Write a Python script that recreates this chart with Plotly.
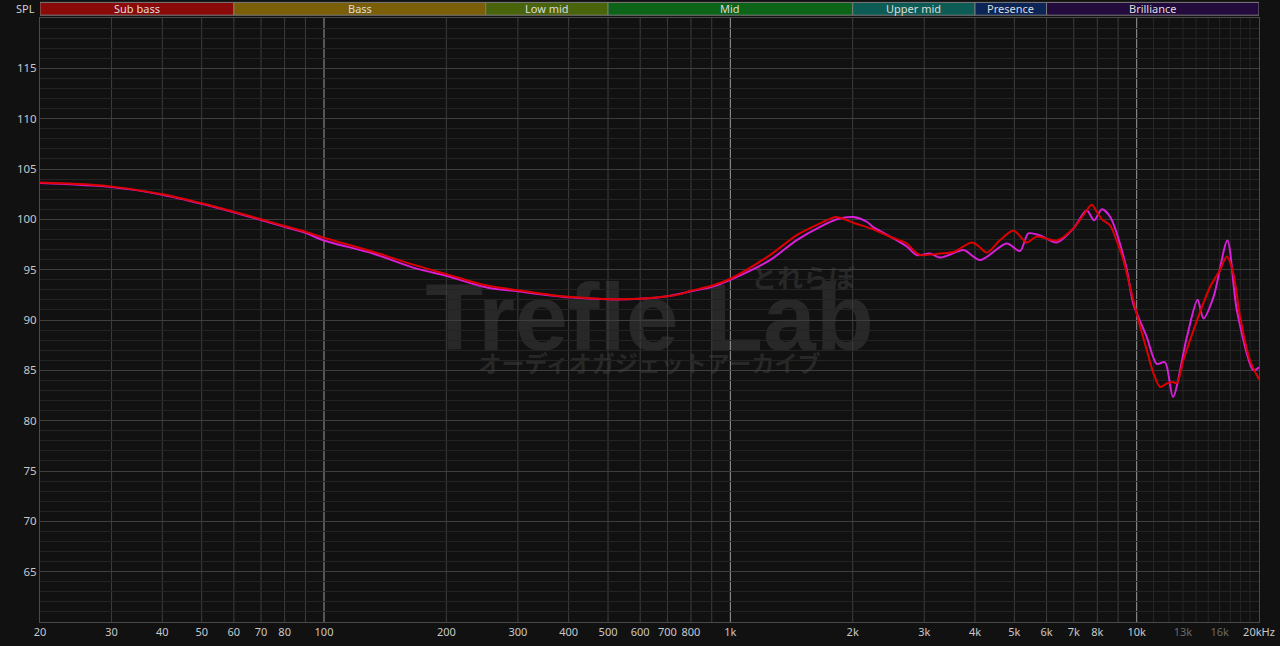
import math
import plotly.graph_objects as go

# ---------------- data ----------------
freq_red = [20, 25, 30, 40, 50, 60, 70, 80, 90, 100, 132, 169, 200, 250, 300, 366, 400, 500,
            600, 700, 752, 800, 900, 1000, 1252, 1457, 1663, 1810, 1862, 2008, 2248, 2472,
            2718, 2848, 2932, 3281, 3540, 3676, 3928, 4078, 4276, 4613, 4974, 5366, 5678,
            6358, 6988, 7398, 7750, 7975, 8210, 8600, 8915, 9274, 9630, 10093, 10590, 11000,
            11420, 11870, 12200, 12560, 13030, 13800, 15160, 16030, 16670, 17300, 17970,
            19000, 20000]
spl_red = [103.65, 103.5, 103.25, 102.5, 101.6, 100.76, 100.0, 99.33, 98.77, 98.17, 96.78, 95.4,
           94.56, 93.46, 92.96, 92.47, 92.3, 92.07, 92.1, 92.35, 92.57, 92.9, 93.4, 94.1, 96.45,
           98.44, 99.6, 100.23, 100.16, 99.66, 99.0, 98.27, 97.6, 96.78, 96.45, 96.6, 96.75,
           97.1, 97.7, 97.35, 96.7, 97.94, 98.9, 97.7, 98.3, 97.9, 99.1, 100.43, 101.45,
           100.76, 100.0, 99.4, 97.94, 95.95, 93.3, 90.0, 87.0, 84.7, 83.35, 83.7, 83.85,
           83.75, 86.0, 89.0, 93.3, 94.95, 96.3, 94.6, 90.3, 86.0, 84.1]

freq_mag = [20, 30, 40, 50, 60, 70, 80, 90, 100, 132, 169, 200, 250, 300, 400, 500, 600, 700,
            800, 900, 1000, 1252, 1457, 1663, 1838, 2008, 2167, 2250, 2337, 2718, 2876, 3100,
            3281, 3474, 3750, 4118, 4789, 5164, 5413, 5782, 6358, 6988, 7534, 7852, 8210,
            8600, 9420, 9810, 10590, 11200, 11740, 12280, 13290, 14120, 14600, 15460, 16720,
            17640, 19380, 20000]
spl_mag = [103.6, 103.2, 102.45, 101.55, 100.7, 99.93, 99.25, 98.65, 97.9, 96.6, 95.1, 94.4,
           93.25, 92.85, 92.25, 92.05, 92.1, 92.35, 92.85, 93.3, 94.0, 95.95, 97.94, 99.26,
           100.03, 100.23, 99.76, 99.2, 98.84, 97.3, 96.45, 96.6, 96.2, 96.5, 96.95, 95.95,
           97.6, 96.85, 98.6, 98.4, 97.7, 99.1, 100.9, 99.9, 101.0, 100.26, 95.3, 91.6, 88.3,
           85.65, 85.8, 82.35, 88.3, 92.0, 90.15, 92.3, 97.9, 90.97, 85.0, 85.3]

band_names = ["Sub bass", "Bass", "Low mid", "Mid", "Upper mid", "Presence", "Brilliance"]
band_edges = [20, 60, 250, 500, 2000, 4000, 6000, 20000]
band_colors = ["#8a0a0a", "#7b5f08", "#4a640c", "#0c6418", "#0c5c55", "#0c2456", "#230a3c"]

x_tick_vals = [20, 30, 40, 50, 60, 70, 80, 100, 200, 300, 400, 500, 600, 700, 800, 1000,
               2000, 3000, 4000, 5000, 6000, 7000, 8000, 10000, 13000, 16000, 20000]
x_tick_text = ["20", "30", "40", "50", "60", "70", "80", "100", "200", "300", "400", "500",
               "600", "700", "800", "1k", "2k", "3k", "4k", "5k", "6k", "7k", "8k", "10k",
               "<span style='color:#6a6a6a'>13k</span>",
               "<span style='color:#6a6a6a'>16k</span>", "20kHz"]
grid_normal = [30, 40, 50, 60, 70, 80, 90, 200, 300, 400, 500, 600, 700, 800, 900,
               2000, 3000, 4000, 5000, 6000, 7000, 8000, 9000]
grid_bright = [100, 1000, 10000]
grid_dim = [11000, 12000, 13000, 14000, 15000, 16000, 17000, 18000, 19000]
y_tick_vals = [65, 70, 75, 80, 85, 90, 95, 100, 105, 110, 115]

# ---------------- figure ----------------
fig = go.Figure()
fig.add_trace(go.Scatter(x=freq_mag, y=spl_mag, mode="lines",
                         line=dict(color="#d81fd8", width=2, shape="spline", smoothing=0.8),
                         hoverinfo="skip", showlegend=False))
fig.add_trace(go.Scatter(x=freq_red, y=spl_red, mode="lines",
                         line=dict(color="#dc0000", width=2, shape="spline", smoothing=0.8),
                         hoverinfo="skip", showlegend=False))

H = 604.0
W = 1219.0


def py(px):
    return (622 - px) / H


shapes = []
# watermark (below grid)
wm_color = "#282828"
shapes.append(dict(type="rect", xref="paper", yref="paper", x0=0.3, x1=0.7,
                   y0=py(308) - 0.05, y1=py(308) + 0.05,
                   line=dict(width=0), fillcolor="rgba(0,0,0,0)", layer="below",
                   label=dict(text="<b>Trefle Lab</b>", textposition="middle center",
                              font=dict(family="Liberation Sans", size=95, color=wm_color))))
shapes.append(dict(type="rect", xref="paper", yref="paper", x0=(803 - 40) / W - 0.06,
                   x1=(803 - 40) / W + 0.06, y0=py(280) - 0.02, y1=py(280) + 0.02,
                   line=dict(width=0), fillcolor="rgba(0,0,0,0)", layer="below",
                   label=dict(text="<b>とれらぼ</b>", textposition="middle center",
                              font=dict(family="Noto Sans CJK JP", size=26, color=wm_color))))
shapes.append(dict(type="rect", xref="paper", yref="paper", x0=0.3, x1=0.7,
                   y0=py(366) - 0.02, y1=py(366) + 0.02,
                   line=dict(width=0), fillcolor="rgba(0,0,0,0)", layer="below",
                   label=dict(text="<b>オーディオガジェットアーカイブ</b>", textposition="middle center",
                              font=dict(family="Noto Sans CJK JP", size=23, color=wm_color))))

for f in grid_dim:
    shapes.append(dict(type="line", xref="x", yref="paper", x0=f, x1=f, y0=0, y1=1,
                       line=dict(color="#262626", width=1), layer="below"))
for f in grid_normal:
    shapes.append(dict(type="line", xref="x", yref="paper", x0=f, x1=f, y0=0, y1=1,
                       line=dict(color="#3e3e3e", width=1), layer="between"))
for f in grid_bright:
    shapes.append(dict(type="line", xref="x", yref="paper", x0=f, x1=f, y0=0, y1=1,
                       line=dict(color="#9a9a9a", width=1), layer="between"))

# band bar above plot
by0 = 1 + 2.8 / H
by1 = 1 + 15.6 / H
annotations = []
for i, name in enumerate(band_names):
    shapes.append(dict(type="rect", xref="x", yref="paper", x0=band_edges[i], x1=band_edges[i + 1],
                       y0=by0, y1=by1, fillcolor=band_colors[i],
                       line=dict(color="#7c7c7c", width=1), layer="above"))
    mid = (math.log10(band_edges[i]) + math.log10(band_edges[i + 1])) / 2
    annotations.append(dict(x=mid, y=(by0 + by1) / 2, xref="x", yref="paper", text=name,
                            showarrow=False, xanchor="center", yanchor="middle",
                            font=dict(family="Noto Sans", size=11, color="#dcdcdc")))
annotations.append(dict(x=-3 / W, y=(by0 + by1) / 2, xref="paper", yref="paper", text="SPL",
                        showarrow=False, xanchor="right", yanchor="middle",
                        font=dict(family="Noto Sans", size=11, color="#cfcfcf")))

fig.update_layout(
    template="none",
    width=1280, height=646,
    margin=dict(l=40, r=21, t=18, b=24, pad=0, autoexpand=False),
    paper_bgcolor="#111111", plot_bgcolor="#111111",
    showlegend=False,
    shapes=shapes, annotations=annotations,
    xaxis=dict(type="log", range=[math.log10(20), math.log10(20000)], automargin=False,
               tickvals=x_tick_vals, ticktext=x_tick_text, showgrid=False, zeroline=False,
               ticks="", tickfont=dict(family="Noto Sans", size=11, color="#c8c8c8"),
               showline=True, mirror=True, linecolor="#4a4a4a", linewidth=1),
    yaxis=dict(range=[60, 120], tickvals=y_tick_vals, showgrid=True, gridcolor="#3e3e3e",
               gridwidth=1, zeroline=False, ticks="", automargin=False,
               tickfont=dict(family="Noto Sans", size=11.5, color="#c8c8c8"),
               showline=True, mirror=True, linecolor="#4a4a4a", linewidth=1,
               minor=dict(dtick=1, showgrid=True, gridcolor="#242424", gridwidth=1)),
)

fig.write_html("out.html", config={"displayModeBar": False},
               post_script="document.body.style.margin='0';document.body.style.background='#111111';")
